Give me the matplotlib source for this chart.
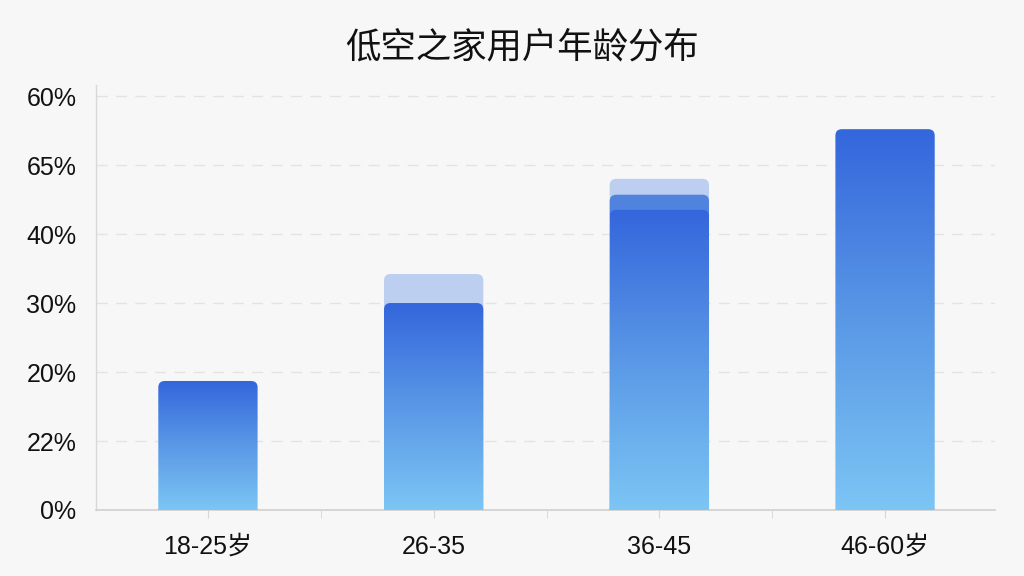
import numpy as np
import matplotlib
matplotlib.use("Agg")
import matplotlib.pyplot as plt
from matplotlib.patches import FancyBboxPatch
from matplotlib.colors import LinearSegmentedColormap

plt.rcParams['font.family'] = ['Liberation Sans', 'Noto Sans CJK SC', 'DejaVu Sans']

categories = ['18-25岁', '26-35', '36-45', '46-60岁']
main_values = [18.7, 30.0, 43.5, 55.2]
ghost_values = [np.nan, 34.2, 48.0, np.nan]
mid_values = [np.nan, np.nan, 45.7, np.nan]
ytick_values = [0, 10, 20, 30, 40, 50, 60]
ytick_labels = ['0%', '22%', '20%', '30%', '40%', '65%', '60%']
title = '低空之家用户年龄分布'

bg = '#f7f7f7'
fig = plt.figure(figsize=(10.24, 5.76), dpi=100, facecolor=bg)
ax = fig.add_axes([0.09375, 0.1146, 0.8779, 0.7378], facecolor=bg)

x = np.arange(len(categories))
width = 0.44
ax.set_xlim(-0.496, 3.487)
ax.set_ylim(0, 61.6)

fig.canvas.draw()
p0 = ax.transData.transform((0, 0))
p1 = ax.transData.transform((1, 1))
px_per_x = p1[0] - p0[0]
px_per_y = p1[1] - p0[1]
aspect = px_per_x / px_per_y
r = 6.5 / px_per_x

cmap = LinearSegmentedColormap.from_list('g', ['#7cc5f4', '#5a98e6', '#3466dc'])

def rounded(xc, h, color, alpha=1.0, z=2):
    p = FancyBboxPatch((xc - width / 2, -5), width, h + 5,
                       boxstyle=f'round,pad=0,rounding_size={r}',
                       mutation_aspect=aspect, fc=color, ec='none', alpha=alpha,
                       lw=0, zorder=z)
    ax.add_patch(p)
    return p

for xi, g in zip(x, ghost_values):
    if not np.isnan(g):
        rounded(xi, g, '#bccff0', z=2)
for xi, m in zip(x, mid_values):
    if not np.isnan(m):
        rounded(xi, m, '#4f83de', z=3)

bars = ax.bar(x, main_values, width=width, color='none', zorder=4)
grad = np.linspace(0, 1, 256).reshape(-1, 1)
for b in bars:
    xc = b.get_x() + b.get_width() / 2
    h = b.get_height()
    clip = rounded(xc, h, 'none', z=4)
    im = ax.imshow(grad, cmap=cmap, aspect='auto', origin='lower',
                   extent=[b.get_x(), b.get_x() + b.get_width(), 0, h],
                   zorder=4, interpolation='bicubic')
    im.set_clip_path(clip)

ax.set_xlim(-0.496, 3.487)
ax.set_ylim(0, 61.6)

ax.set_yticks(ytick_values)
ax.set_yticklabels(ytick_labels, fontsize=18, color='#111111')
ax.tick_params(axis='y', length=0, pad=14)
ax.set_xticks(x)
ax.set_xticklabels(categories, fontsize=18, color='#111111')
ax.set_xticks([0.5, 1.5, 2.5], minor=True)
ax.tick_params(axis='x', which='both', length=6, color='#d5d5d5', pad=12, direction='out')

for yv in ytick_values[1:]:
    ax.axhline(yv, color='#e3e3e3', lw=1.0, ls=(0, (8, 6)), zorder=1)

for s in ['top', 'right']:
    ax.spines[s].set_visible(False)
ax.spines['left'].set_color('#d8d8d8')
ax.spines['bottom'].set_color('#d0d0d0')
ax.spines['left'].set_linewidth(1.0)
ax.spines['bottom'].set_linewidth(1.2)

fig.text(0.51, 0.918, title, ha='center', va='center', fontsize=25.5,
         family=['Noto Sans CJK SC'], fontweight='medium', color='#111111')

fig.savefig('out.png', dpi=100, facecolor=bg)
